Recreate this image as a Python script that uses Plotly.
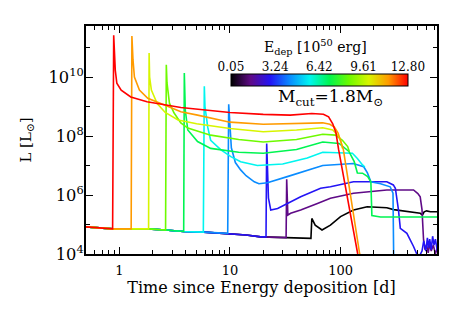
import plotly.graph_objects as go
from plotly.colors import sample_colorscale

# ---------------- data ----------------
energies = [0.05, 1.47, 2.88, 4.30, 5.72, 7.13, 8.55, 9.97, 11.38, 12.80]  # 10^50 erg
cbar_ticks = [0.05, 3.24, 6.42, 9.61, 12.80]
cbar_ticktext = ["0.05", "3.24", "6.42", "9.61", "12.80"]

# shared quiescent phase before energy deposition signal
t_base = [0.5, 0.87, 1.3, 1.8, 2.6, 3.8, 5.8, 9.4, 14, 19, 30, 53]
L_base = [8.3e4, 7.1e4, 7.1e4, 7.1e4, 6.5e4, 5.8e4, 5.5e4, 5.0e4, 4.4e4, 3.8e4, 3.6e4, 3.4e4]

t_e005 = [54.0, 55.0, 59, 68, 81, 100, 131, 174, 262, 302, 400, 525, 550, 570, 600, 650, 750]
L_e005 = [3.4e4, 1.6e5, 9.5e4, 6.5e4, 9.5e4, 1.86e5, 3.1e5, 4.0e5, 3.7e5, 3.2e5, 2.8e5, 2.4e5, 2.1e5,
          2.7e5, 2.9e5, 2.7e5, 2.7e5]

t_e147 = [32.2, 32.6, 33.4, 35.4, 43.6, 61.8, 81, 131, 262, 457, 500, 525, 545, 563, 580, 600, 620,
          640, 660, 690, 720, 750]
L_e147 = [3.6e4, 3.4e6, 2.1e5, 2.4e5, 3.1e5, 5.2e5, 7.8e5, 1.15e6, 1.48e6, 1.48e6, 1.12e6, 8.7e5,
          3.2e5, 3.0e4, 1.4e4, 2.0e4, 1.1e4, 2.2e4, 1.26e4, 2.0e4, 1.0e4, 1.6e4]

t_e288 = [21.2, 21.5, 22.3, 23.4, 27, 43.6, 66, 81, 131, 262, 300, 313, 334, 347, 398, 457, 489, 520,
          545, 565, 590, 610, 625, 640, 660, 680, 700, 720, 750]
L_e288 = [3.8e4, 5.6e7, 7.9e5, 3.1e5, 3.5e5, 8.7e5, 1.7e6, 1.9e6, 2.8e6, 2.8e6, 2.2e6, 1.7e6, 3.1e5,
          7.4e4, 5.0e4, 1.8e4, 1.0e4, 8.9e3, 1.26e4, 2.8e4, 1.26e4, 3.5e4, 1.6e4, 3.2e4, 1.4e4, 4.0e4,
          2.0e4, 3.2e4, 1.26e4]

t_e430 = [9.55, 9.75, 9.95, 10.3, 11.2, 12.5, 14, 16.6, 18.3, 21.8, 33, 53, 69, 130, 162, 175, 188,
          230, 281, 298, 302, 304]
L_e430 = [5.0e4, 1.2e9, 3.2e8, 4.0e7, 1.26e7, 7.1e6, 4.5e6, 2.8e6, 2.4e6, 2.6e6, 4.2e6, 7.1e6, 1.0e7,
          1.17e7, 9.1e6, 5.6e6, 2.8e6, 2.4e6, 1.9e6, 1.15e6, 1.0e4, 1.0e3]

t_e572 = [5.75, 5.87, 5.95, 6.1, 6.3, 6.7, 8.3, 10.2, 12.5, 17.7, 30, 50, 69, 128, 142, 158, 166]
L_e572 = [5.5e4, 4.9e9, 1.0e9, 4.5e8, 2.0e8, 7.2e7, 3.4e7, 2.0e7, 1.35e7, 1.0e7, 1.12e7, 1.8e7, 2.8e7,
          2.6e7, 1.74e7, 1.05e7, 8.9e6]

t_e713 = [3.82, 3.87, 3.9, 3.95, 4.16, 5.1, 6.7, 12, 20, 40, 69, 97, 119, 133, 142, 158, 176, 188,
          192, 230, 750]
L_e713 = [5.8e4, 1.38e10, 3.2e9, 7.6e8, 1.6e8, 6.5e7, 3.8e7, 2.8e7, 2.6e7, 3.5e7, 6.3e7, 5.6e7, 3.0e7,
          1.35e7, 5.6e6, 5.5e6, 4.2e6, 2.8e6, 2.0e5, 1.8e5, 1.8e5]

t_e855 = [2.62, 2.66, 2.7, 2.84, 3.13, 3.6, 4.16, 6.7, 12, 20, 40, 69, 90, 104, 116, 120]
L_e855 = [6.5e4, 2.6e10, 6.3e9, 1.3e9, 6.0e8, 2.8e8, 1.86e8, 1.07e8, 7.6e7, 6.3e7, 7.6e7, 1.15e8,
          1.07e8, 7.2e7, 4.4e7, 3.0e7]

t_e997 = [1.84, 1.86, 1.88, 1.95, 2.2, 2.6, 3.4, 5, 10, 20, 40, 69, 85, 97, 101, 104]
L_e997 = [7.1e4, 6.5e10, 1.0e10, 3.6e9, 1.26e9, 6.3e8, 3.5e8, 2.6e8, 1.8e8, 1.4e8, 1.6e8, 1.9e8,
          1.6e8, 9.5e7, 6.3e7, 3.8e7]

t_e1138 = [1.28, 1.30, 1.33, 1.37, 1.52, 1.81, 2.56, 3.6, 5.1, 10, 20, 40, 69, 80, 88, 95, 106, 149, 170]
L_e1138 = [7.1e4, 2.45e11, 3.8e10, 1.0e10, 3.6e9, 1.9e9, 1.12e9, 6.6e8, 5.1e8, 2.95e8, 2.5e8, 2.6e8,
           2.8e8, 2.5e8, 2.0e8, 1.26e8, 3.5e7, 1.0e4, 1.0e3]

t_e1280 = [0.87, 0.89, 0.92, 0.95, 1.04, 1.27, 1.78, 3.6, 6.7, 10, 20, 35, 55, 70, 78, 85, 91, 96, 143, 165]
L_e1280 = [7.1e4, 2.6e11, 1.7e10, 6.2e9, 3.6e9, 2.1e9, 1.45e9, 9.3e8, 7.6e8, 6.3e8, 5.4e8, 5.1e8,
           5.8e8, 5.5e8, 4.5e8, 2.6e8, 1.26e8, 3.5e7, 1.0e4, 1.0e3]

series_t = [t_e005, t_e147, t_e288, t_e430, t_e572, t_e713, t_e855, t_e997, t_e1138, t_e1280]
series_L = [L_e005, L_e147, L_e288, L_e430, L_e572, L_e713, L_e855, L_e997, L_e1138, L_e1280]

# ---------------- style ----------------
FONT = "DejaVu Serif"
cscale = [
    [0.00, "rgb(0,0,0)"],
    [0.111, "rgb(95,10,135)"],
    [0.222, "rgb(35,20,245)"],
    [0.333, "rgb(10,140,255)"],
    [0.444, "rgb(0,245,240)"],
    [0.556, "rgb(0,245,80)"],
    [0.667, "rgb(110,250,0)"],
    [0.778, "rgb(215,245,0)"],
    [0.889, "rgb(255,155,0)"],
    [1.00, "rgb(255,0,0)"],
]
emin, emax = energies[0], energies[-1]

fig = go.Figure()
for e, ts, Ls in zip(energies, series_t, series_L):
    pre_t = [t for t in t_base if t < ts[0]]
    pre_L = [L for t, L in zip(t_base, L_base) if t < ts[0]]
    col = sample_colorscale(cscale, [(e - emin) / (emax - emin)])[0]
    fig.add_trace(go.Scatter(x=pre_t + ts, y=pre_L + Ls, mode="lines",
                             line=dict(color=col, width=1.6), showlegend=False,
                             name=f"{e:.2f}", hoverinfo="skip"))

# colour bar carrier
fig.add_trace(go.Scatter(
    x=[emin, emax], y=[0, 0], xaxis="x2", yaxis="y2", mode="markers",
    marker=dict(color=[emin, emax], colorscale=cscale, cmin=emin, cmax=emax, opacity=0,
                showscale=True,
                colorbar=dict(orientation="h", x=0.413, xanchor="left", len=0.504, lenmode="fraction",
                              y=0.789, yanchor="top", thickness=12, xpad=0, ypad=0,
                              outlinewidth=1, outlinecolor="black", showticklabels=False, ticks="")),
    showlegend=False, hoverinfo="skip"))

axis_common = dict(showline=True, linecolor="black", linewidth=1.5, mirror="allticks",
                   ticks="inside", tickcolor="black", showgrid=False, zeroline=False,
                   automargin=False,
                   tickfont=dict(family=FONT, size=13, color="black"))

# the page body adds an 8 px offset; margins compensate so the plot area sits where the reference has it
fig.update_layout(
    width=455, height=301,
    margin=dict(l=78, r=26, t=18, b=55, autoexpand=False),
    paper_bgcolor="white", plot_bgcolor="white",
    font=dict(family=FONT, color="black"),
    xaxis=dict(type="log", range=[-0.301, 2.872], dtick=1, tick0=0, ticklen=7, ticklabelstandoff=4,
               minor=dict(ticks="inside", ticklen=4, dtick="D1", tickcolor="black"),
               title=dict(text="Time since Energy deposition [d]", font=dict(family=FONT, size=16),
                          standoff=4),
               **axis_common),
    yaxis=dict(type="log", range=[4, 11.73], dtick=2, tick0=0, exponentformat="power", ticklen=7,
               ticklabelstandoff=-2,
               minor=dict(ticks="inside", ticklen=4, dtick=1, tickcolor="black"),
               title=dict(text="L [L<sub>⊙</sub>]", font=dict(family=FONT, size=15), standoff=13),
               **axis_common),
    xaxis2=dict(domain=[0.413, 0.917], anchor="y2", side="top", range=[emin, emax],
                tickmode="array", tickvals=cbar_ticks, ticktext=cbar_ticktext, automargin=False,
                showgrid=False, zeroline=False, showline=False, ticks="",
                tickfont=dict(family=FONT, size=12, color="black")),
    yaxis2=dict(domain=[0.70, 0.789], anchor="x2", visible=False, range=[-1, 1], automargin=False),
    annotations=[
        dict(text="E<sub>dep</sub> [10<sup>50</sup> erg]", xref="paper", yref="paper",
             x=0.655, y=0.908, xanchor="center", yanchor="middle", showarrow=False,
             font=dict(family=FONT, size=14, color="black")),
        dict(text="M<sub>cut</sub>=1.8M<sub>⊙</sub>", xref="paper", yref="paper",
             x=0.698, y=0.685, xanchor="center", yanchor="middle", showarrow=False,
             font=dict(family=FONT, size=17, color="black")),
    ],
)

fig.write_html("out.html")
